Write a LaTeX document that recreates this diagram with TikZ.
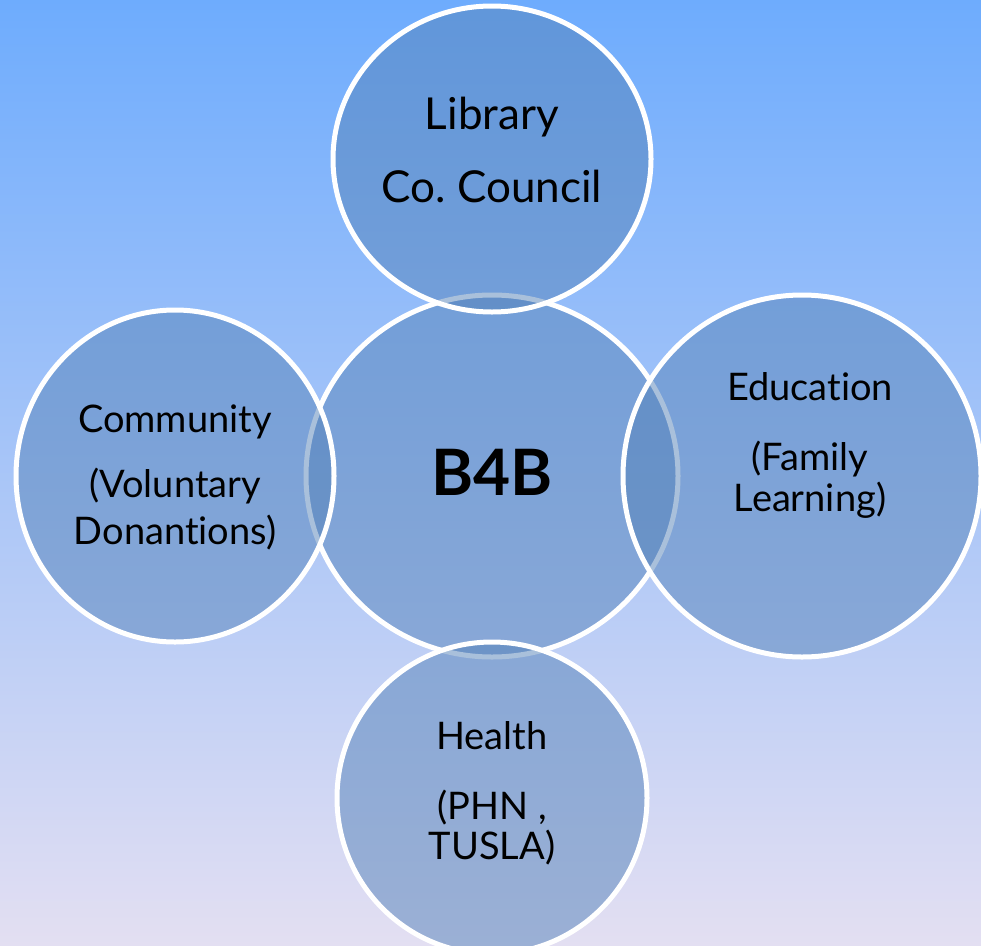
\documentclass[tikz,border=0pt]{standalone}
\usepackage{fontspec}
\setmainfont[Ligatures={NoCommon}]{Lato}
\usetikzlibrary{shapes.geometric}

\definecolor{sky}{RGB}{110,172,253}
\definecolor{haze}{RGB}{166,204,246}
\definecolor{lilac}{RGB}{227,223,242}
\definecolor{bubblefill}{RGB}{84,130,185}

\begin{document}
\begin{tikzpicture}[x=1pt, y=-1pt,
		bubble/.style={ellipse, draw=white, line width=5pt, fill=bubblefill, fill opacity=0.5, inner sep=0pt},
		lbl/.style={anchor=north, align=center, inner sep=0pt, font=\fontsize{38}{41}\selectfont}]
		\useasboundingbox (0,0) rectangle (981,945);
		\clip (0,0) rectangle (981,945);
		\shade[top color=sky, middle color=haze, bottom color=lilac] (0,0) rectangle (981,945);

		\node[bubble, minimum width=372pt, minimum height=362pt] (hub) at (492,476) {};
		\node[bubble, minimum width=318pt, minimum height=306pt] (lib) at (492,159) {};
		\node[bubble, minimum width=318pt, minimum height=332pt] (com) at (175,476) {};
		\node[bubble, minimum width=358pt, minimum height=362pt] (edu) at (802,476) {};
		\node[bubble, minimum width=310pt, minimum height=312pt] (hea) at (492,798) {};

		\node[lbl, font=\bfseries\fontsize{64}{70}\selectfont] (hubtext) at (492,449) {B4B};
		\node[lbl, font=\fontsize{44}{73}\selectfont] (libtext) at (492,97) {Library\\Co.\ Council};
		\node[lbl, font=\fontsize{38}{47}\selectfont] (comtext) at (175,405) {Community\\[18pt](Voluntary\\Donantions)};
		\node[lbl] (edutext) at (810,372) {Education\\[29pt](Family\\Learning)};
		\node[lbl, font=\fontsize{38}{40}\selectfont] (heatext) at (492,721) {Health\\[30pt](PHN ,\\TUSLA)};
	\end{tikzpicture}
\end{document}
